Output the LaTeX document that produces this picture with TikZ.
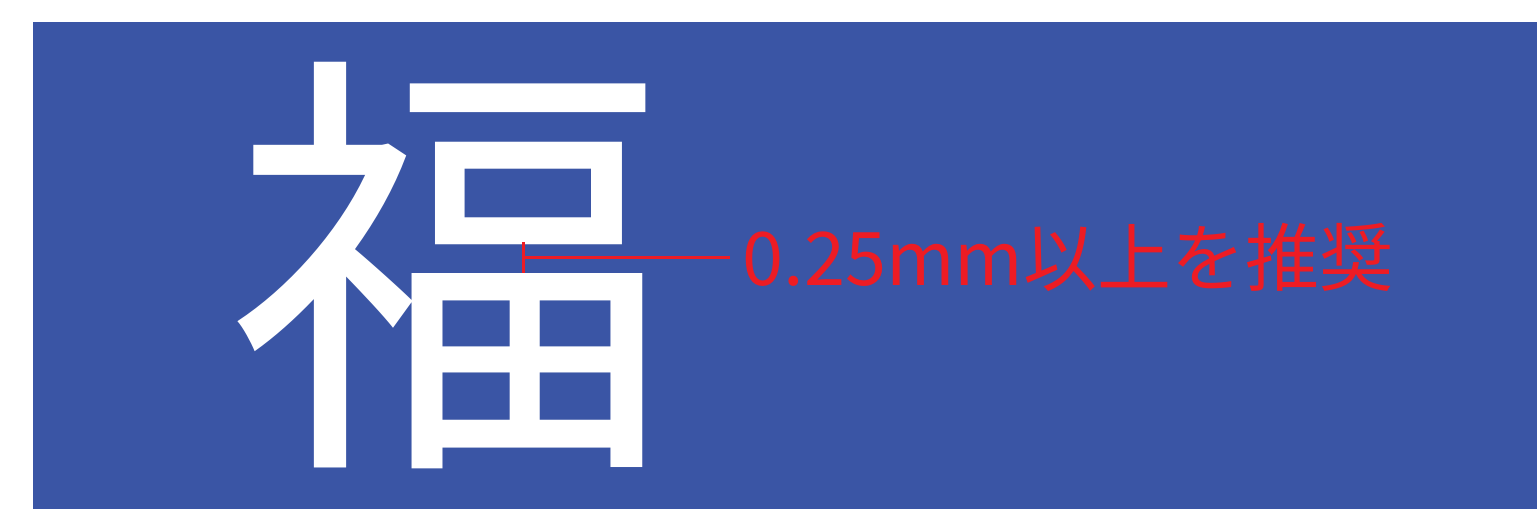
\documentclass[tikz,border=0pt]{standalone}
\usepackage{fontspec}
\newfontfamily\cjk{Noto Sans CJK JP}
\definecolor{bgblue}{HTML}{3A55A5}
\definecolor{dimred}{HTML}{ED1C24}
\begin{document}
\begin{tikzpicture}[x=0.5pt,y=-0.5pt,
  dimline/.style={draw=dimred,line width=1.5pt},
  bigchar/.style={text=white,font=\cjk\fontsize{221pt}{221pt}\selectfont,inner sep=0pt},
  dimlabel/.style={text=dimred,font=\cjk\fontsize{37pt}{37pt}\selectfont,inner xsep=6pt,inner ysep=0pt}]
\useasboundingbox (0,0) rectangle (1537,519);
\fill[bgblue] (33,22) rectangle (1537,509);
\node[bigchar] (fuku) at (450,266) {福};
\coordinate (tA) at (523,242);
\coordinate (tB) at (523,273);
\coordinate (tM) at (523,257);
\node[dimlabel,anchor=west] (label) at (730,257) {0.25mm以上を推奨};
\draw[dimline] (tA) -- (tB);
\draw[dimline] (tM) -- (tM -| label.west);
\end{tikzpicture}
\end{document}
